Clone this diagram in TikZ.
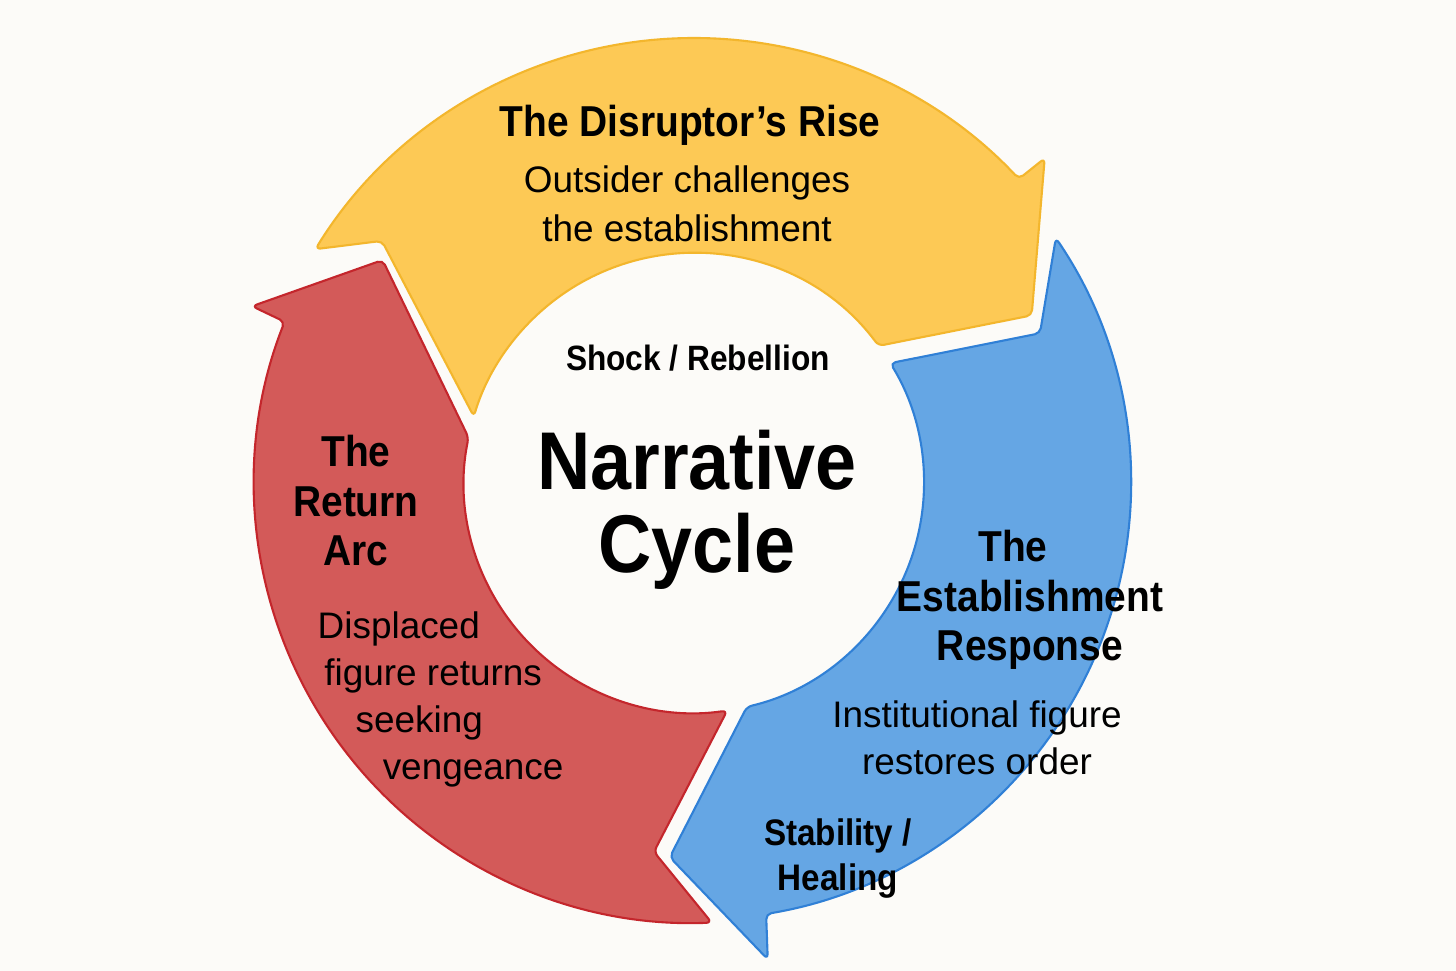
\documentclass[tikz,border=0pt]{standalone}
\usepackage{fontspec}
\setmainfont{Liberation Sans}[BoldFeatures={FakeStretch=0.9}]
\usepackage{tikz}
\definecolor{paper}{RGB}{252, 251, 248}
\definecolor{sunflower}{RGB}{253, 201, 85}
\definecolor{sunflowerdark}{RGB}{243, 182, 45}
\definecolor{brick}{RGB}{211, 90, 89}
\definecolor{brickdark}{RGB}{196, 38, 44}
\definecolor{sky}{RGB}{101, 166, 228}
\definecolor{skydark}{RGB}{48, 128, 214}
\tikzset{
  headline/.style={font=\fontsize{12.3}{14.2}\selectfont\bfseries, align=center, inner sep=0pt, anchor=base},
  blurb/.style={font=\fontsize{10.5}{13.6}\selectfont, align=center, inner sep=0pt, anchor=base},
}

\begin{document}
\begin{tikzpicture}[x=0.01cm, y=-0.01cm]
    \fill[paper] (0,0) rectangle (1456,971);
    \begin{scope}[shift={(694,483)}, line width=0.6pt, rounded corners=1.5pt]
        \filldraw[color=sunflowerdark, fill=sunflower] (-148.3:445) arc[start angle=-148.3, end angle=-43.1, radius=445]
             -- (-42.8:478) -- (-26.4:377) -- (-36.6:230) arc[start angle=-36.6, end angle=-163.2, radius=230] -- (-142.2:395) -- cycle;
        \filldraw[color=brickdark,     fill=brick]     (87.7:440) arc[start angle=87.7, end angle=201.5, radius=440]
             -- (201.8:476) -- (215.6:383) -- (191.4:230) arc[start angle=191.4, end angle=81.7, radius=230] -- (96.2:371) -- cycle;
        \filldraw[color=skydark,       fill=sky]       (-34.1:437) arc[start angle=-34.1, end angle=80.5, radius=437]
             -- (81.2:482) -- (93.7:375) -- (76.7:230) arc[start angle=76.7, end angle=-31.4, radius=230] -- (-23.4:377) -- cycle;
    \end{scope}
    \node[headline] (rise) at (690,137) {The Disruptor’s Rise};
    \node[blurb, font=\fontsize{10.5}{14.2}\selectfont] (risetext) at (687,242) {Outsider challenges\\the establishment};
    \node[headline, font=\fontsize{10}{12}\selectfont\bfseries] (shock) at (698,371) {Shock / Rebellion};
    \node[headline, font=\fontsize{23.3}{23.6}\selectfont\bfseries] (cycle) at (697,573) {Narrative\\Cycle};
    \node[headline] (returnarc) at (356,566) {The\\Return\\Arc};
    \node[blurb, font=\fontsize{10.5}{13.4}\selectfont, align=left, anchor=base west] (returntext) at (317,780)
         {Displaced\\\hspace*{1.9pt}figure returns\\\hspace*{10.8pt}seeking\\\hspace*{18.5pt}vengeance};
    \node[headline] (establish) at (1030,661) {The\hspace*{9.7pt}\\Establishment\\Response};
    \node[blurb] (response) at (977,775) {Institutional figure\\restores order};
    \node[headline, font=\fontsize{10.5}{12.9}\selectfont\bfseries] (stability) at (838,891) {Stability /\\Healing};
\end{tikzpicture}
\end{document}
